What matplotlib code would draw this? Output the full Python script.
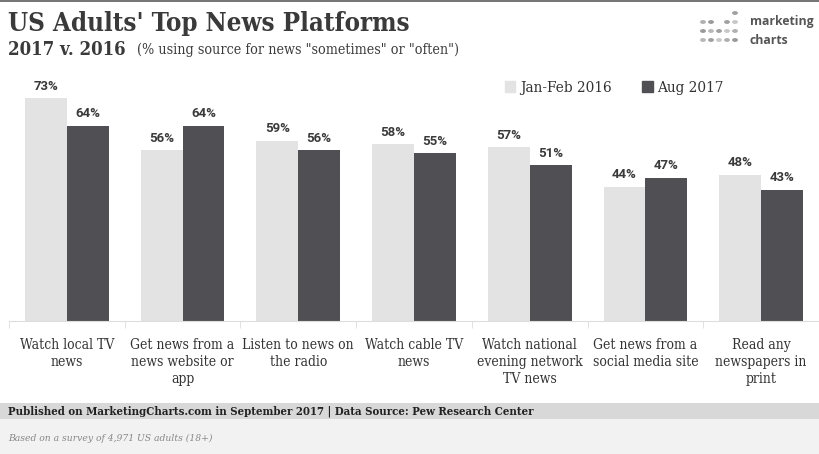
import matplotlib
matplotlib.use("Agg")
import matplotlib.pyplot as plt
from matplotlib.patches import Rectangle, Patch
import numpy as np

# data
categories = [
    "Watch local TV\nnews",
    "Get news from a\nnews website or\napp",
    "Listen to news on\nthe radio",
    "Watch cable TV\nnews",
    "Watch national\nevening network\nTV news",
    "Get news from a\nsocial media site",
    "Read any\nnewspapers in\nprint",
]
jan_feb_2016 = [73, 56, 59, 58, 57, 44, 48]
aug_2017 = [64, 64, 56, 55, 51, 47, 43]
series_names = ["Jan-Feb 2016", "Aug 2017"]

LIGHT = "#e3e3e3"
DARK = "#505054"
TXT = "#333333"
SERIF = "DejaVu Serif"

W, H = 819, 454
fig = plt.figure(figsize=(W / 100, H / 100), dpi=100)
fig.patch.set_facecolor("white")


def fx(px):
    return px / W


def fy(py):
    return 1 - py / H


# top border
fig.add_artist(Rectangle((0, fy(2)), 1, 2 / H, transform=fig.transFigure,
                         facecolor="#777777", edgecolor="none"))

# title block
fig.text(fx(8), fy(31), "US Adults' Top News Platforms", family=SERIF,
         stretch="condensed", weight="bold", size=18.5, color="#3a3a3a",
         va="baseline")
fig.text(fx(8), fy(55), "2017 v. 2016", family=SERIF, stretch="condensed",
         weight="bold", size=13.3, color="#3a3a3a", va="baseline")
fig.text(fx(137), fy(54), '(% using source for news "sometimes" or "often")',
         family=SERIF, stretch="condensed", size=10.3, color="#3a3a3a",
         va="baseline")

# logo
dot_rows = [[0, 0, 0, 0, 1], [1, 1, 0, 1, 1], [1, 1, 1, 1, 1], [1, 1, 1, 1, 1]]
dot_shade = ["#c8c8c8", "#b0b0b0", "#9a9a9a", "#b8b8b8", "#a0a0a0"]
for r, row in enumerate(dot_rows):
    for c, on in enumerate(row):
        if on:
            fig.add_artist(plt.Circle((fx(703 + c * 8), fy(13 + r * 9)), 2.2 / W,
                                      transform=fig.transFigure,
                                      color=dot_shade[(r + c) % 5]))
fig.text(fx(750), fy(21), "marketing", family="Open Sans", weight="bold",
         size=8.8, color="#555555", va="center")
fig.text(fx(750), fy(40), "charts", family="Open Sans", weight="bold",
         size=8.8, color="#555555", va="center")

# bars
ax = fig.add_axes([fx(9), 1 - 321 / H, 810 / W, 244 / H])
x = np.arange(len(categories))
bw = 0.362
b1 = ax.bar(x - bw / 2, jan_feb_2016, bw, color=LIGHT, label=series_names[0])
b2 = ax.bar(x + bw / 2, aug_2017, bw, color=DARK, label=series_names[1])
for bars, vals in ((b1, jan_feb_2016), (b2, aug_2017)):
    for rect, v in zip(bars, vals):
        ax.annotate(f"{v}%", (rect.get_x() + rect.get_width() / 2, v),
                    xytext=(0, 4), textcoords="offset points", ha="center",
                    va="bottom", family="Roboto", weight="bold", size=9.5,
                    color="#3a3a3a")

ax.set_xlim(-0.5, len(categories) - 0.5)
ax.set_ylim(0, 80)
ax.set_yticks([])
for s in ("top", "right", "left"):
    ax.spines[s].set_visible(False)
ax.spines["bottom"].set_color("#dddddd")
ax.set_xticks(x)
ax.set_xticklabels(categories, family=SERIF, stretch="condensed", size=10,
                   color=TXT, linespacing=1.3, va="top")
ax.tick_params(axis="x", length=0, pad=12)
ax.set_xticks(np.arange(-0.5, len(categories)), minor=True)
ax.tick_params(axis="x", which="minor", length=5, color="#dddddd")

leg = ax.legend(handles=[Patch(color=LIGHT), Patch(color=DARK)],
                labels=series_names, loc="center left",
                bbox_to_anchor=(fx(491), fy(88)), bbox_transform=fig.transFigure,
                ncol=2, frameon=False, handlelength=0.7, handleheight=0.7,
                handletextpad=0.3, columnspacing=2.0,
                prop={"family": SERIF, "stretch": "condensed", "size": 11})
for t in leg.get_texts():
    t.set_color(TXT)

# footer
fig.add_artist(Rectangle((0, 0), 1, fy(419), transform=fig.transFigure,
                         facecolor="#f2f2f2", edgecolor="none"))
fig.add_artist(Rectangle((0, fy(419)), 1, 16 / H, transform=fig.transFigure,
                         facecolor="#d8d8d8", edgecolor="none"))
fig.text(fx(8), fy(411), "Published on MarketingCharts.com in September 2017 | "
         "Data Source: Pew Research Center", family=SERIF, stretch="condensed",
         weight="bold", size=8.2, color="#222222", va="center")
fig.text(fx(8), fy(438), "Based on a survey of 4,971 US adults (18+)",
         family=SERIF, stretch="condensed", style="italic", size=7.4,
         color="#888888", va="center")

fig.savefig("out.png", dpi=100)
